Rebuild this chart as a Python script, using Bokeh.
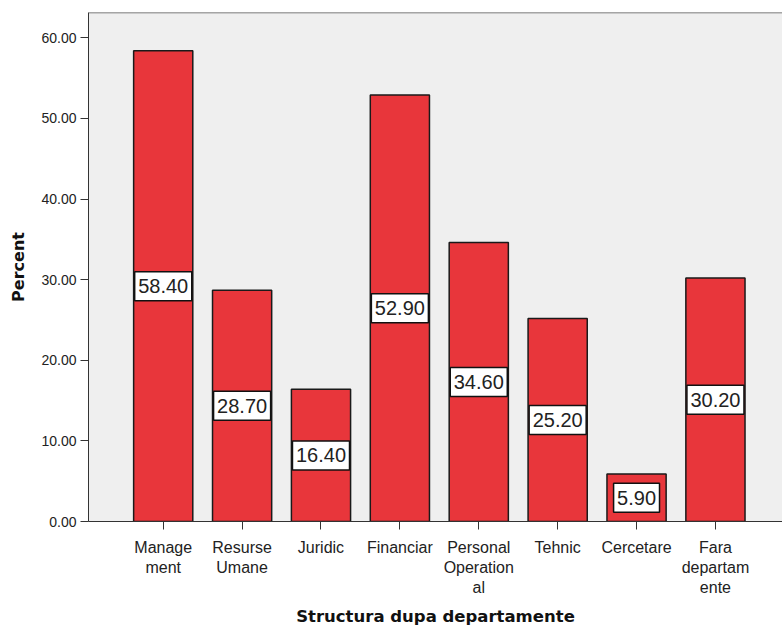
from bokeh.plotting import figure
from bokeh.models import ColumnDataSource, FixedTicker, Span, NumeralTickFormatter
from bokeh.core.properties import value
from bokeh.embed import file_html
from bokeh.resources import INLINE

categories = ["Management", "Resurse Umane", "Juridic", "Financiar",
              "Personal Operational", "Tehnic", "Cercetare", "Fara departamente"]
tick_labels = ["Manage\nment", "Resurse\nUmane", "Juridic", "Financiar",
               "Personal\nOperation\nal", "Tehnic", "Cercetare", "Fara\ndepartam\nente"]
percent = [58.40, 28.70, 16.40, 52.90, 34.60, 25.20, 5.90, 30.20]
y_ticks = [0, 10, 20, 30, 40, 50, 60]

FONT = "Liberation Sans"
TITLE_FONT = "DejaVu Sans"
LABEL_PX = 20

xs = list(range(1, len(categories) + 1))
labs = ["%.2f" % v for v in percent]
# box width from label text width (digits 0.556em, period 0.278em) plus padding
box_w = [sum(0.556 if c.isdigit() else 0.278 for c in s) * LABEL_PX + 7 for s in labs]

src = ColumnDataSource(dict(
    x=xs,
    top=percent,
    mid=[v / 2 for v in percent],
    lab=labs,
    bw=box_w,
    cat=categories,
))

p = figure(width=782, height=629, output_backend="svg", toolbar_location=None,
           x_range=(0.053, 8.85), y_range=(0, 63.15),
           min_border_left=88, min_border_top=12, min_border_right=0, min_border_bottom=108,
           background_fill_color="#efefef", border_fill_color="white")
p.outline_line_color = None
p.grid.visible = False

p.vbar(x="x", top="top", width=0.75, source=src, fill_color="#e8363b",
       line_color="#1a1a1a", line_width=1.5)

p.rect(x="x", y="mid", width="bw", height=29, width_units="screen", height_units="screen",
       source=src, fill_color="white", line_color="#111111", line_width=1.5)
p.text(x="x", y="mid", text="lab", source=src, text_align="center", text_baseline="middle",
       text_font=value(FONT), text_font_size=f"{LABEL_PX}px", text_color="#222222")

p.add_layout(Span(location=63.15, dimension="width", line_color="#555555", line_width=1.5))

xa = p.xaxis[0]
xa.ticker = FixedTicker(ticks=xs)
xa.major_label_overrides = {i: t for i, t in zip(xs, tick_labels)}
xa.major_tick_out = 8
xa.major_tick_in = 0
xa.minor_tick_line_color = None
xa.axis_line_color = "#333333"
xa.major_tick_line_color = "#333333"
xa.major_label_text_font = FONT
xa.major_label_text_font_size = "16px"
xa.major_label_text_color = "#222222"
xa.major_label_standoff = 9
xa.axis_label = "Structura dupa departamente"
xa.axis_label_text_font = TITLE_FONT
xa.axis_label_text_font_size = "16.5px"
xa.axis_label_text_font_style = "bold"
xa.axis_label_text_color = "#111111"
xa.axis_label_standoff = 8

ya = p.yaxis[0]
ya.ticker = FixedTicker(ticks=y_ticks)
ya.formatter = NumeralTickFormatter(format="0.00")
ya.major_tick_out = 8
ya.major_tick_in = 0
ya.minor_tick_line_color = None
ya.axis_line_color = "#333333"
ya.major_tick_line_color = "#333333"
ya.major_label_text_font = FONT
ya.major_label_text_font_size = "14px"
ya.major_label_text_color = "#222222"
ya.major_label_standoff = 4
ya.axis_label = "Percent"
ya.axis_label_text_font = TITLE_FONT
ya.axis_label_text_font_size = "16px"
ya.axis_label_text_font_style = "bold"
ya.axis_label_text_color = "#111111"
ya.axis_label_standoff = 10

open("out.html", "w").write(file_html(p, INLINE))
